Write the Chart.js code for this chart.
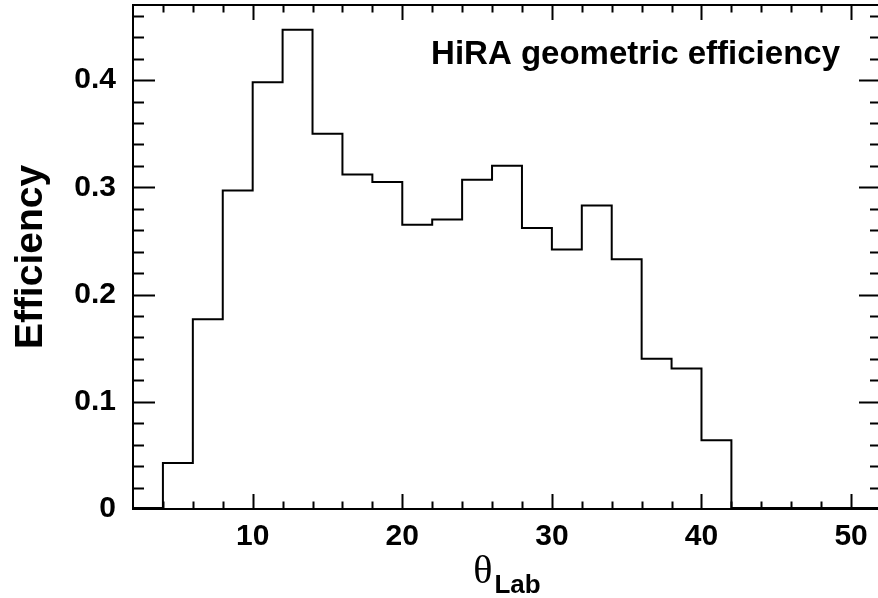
<!DOCTYPE html>
<html>
<head>
<meta charset="utf-8">
<script src="https://cdn.jsdelivr.net/npm/chart.js@4.4.1/dist/chart.umd.min.js"></script>
<style>
  html, body { margin: 0; padding: 0; background: #fff; overflow: hidden; width: 878px; height: 598px; }
  #wrap { width: 878px; height: 598px; overflow: hidden; position: relative; }
  #eff { position: absolute; left: 0; top: 0; }
</style>
</head>
<body>
<div id="wrap"><canvas id="eff" width="884" height="598"></canvas></div>
<script>
// histogram bins (lower edge, width 2 deg) and efficiency per bin
const binLow = [2, 4, 6, 8, 10, 12, 14, 16, 18, 20, 22, 24, 26, 28, 30, 32, 34, 36, 38, 40, 42, 44, 46, 48, 50];
const binWidth = 2;
const efficiency = [0.001, 0.043, 0.177, 0.297, 0.398, 0.447, 0.350, 0.312, 0.305, 0.265,
                    0.270, 0.307, 0.320, 0.262, 0.242, 0.283, 0.233, 0.140, 0.131, 0.064,
                    0.001, 0.001, 0.001, 0.001, 0.001];

// axis ticks
const xTicks = [10, 20, 30, 40, 50];
const yTicks = [0, 0.1, 0.2, 0.3, 0.4];
const xMinorStep = 2;
const yMinorStep = 0.02;

const labelFont = '"Liberation Sans", Arial, Helvetica, sans-serif';

// step outline: each bin starts at its lower edge, last one closed at upper edge
const points = binLow.map((x, i) => ({ x: x, y: efficiency[i] }));
points.push({ x: binLow[binLow.length - 1] + binWidth, y: efficiency[efficiency.length - 1] });

// ROOT-like frame with inward ticks on all four sides, plus titles
const frameTicks = {
    id: 'frameTicks',
    afterDraw(chart) {
        const ctx = chart.ctx;
        const a = chart.chartArea;
        const xs = chart.scales.x;
        const ys = chart.scales.y;
        ctx.save();
        ctx.strokeStyle = '#000';
        ctx.lineWidth = 2;
        ctx.strokeRect(a.left, a.top, a.right - a.left, a.bottom - a.top);

        ctx.beginPath();
        for (let v = xs.min + xMinorStep; v < xs.max - 1e-9; v += xMinorStep) {
            const px = Math.round(xs.getPixelForValue(v)) + 0.5;
            const major = xTicks.some(t => Math.abs(t - v) < 1e-6);
            const len = major ? 15 : 7.5;
            ctx.moveTo(px, a.bottom); ctx.lineTo(px, a.bottom - len);
            ctx.moveTo(px, a.top); ctx.lineTo(px, a.top + len);
        }
        for (let v = ys.min + yMinorStep; v < ys.max - 1e-9; v += yMinorStep) {
            const py = Math.round(ys.getPixelForValue(v)) + 0.5;
            const major = yTicks.some(t => Math.abs(t - v) < 1e-6);
            const len = major ? 22 : 11;
            ctx.moveTo(a.left, py); ctx.lineTo(a.left + len, py);
            ctx.moveTo(a.right, py); ctx.lineTo(a.right - len, py);
        }
        ctx.lineWidth = 2;
        ctx.stroke();

        // legend-like label
        ctx.fillStyle = '#000';
        ctx.font = 'bold 33px ' + labelFont;
        ctx.textAlign = 'right';
        ctx.textBaseline = 'alphabetic';
        ctx.fillText('HiRA geometric efficiency', 840, 64);

        // y title
        ctx.save();
        ctx.translate(42, (a.top + a.bottom) / 2);
        ctx.rotate(-Math.PI / 2);
        ctx.textAlign = 'center';
        ctx.font = 'bold 39px ' + labelFont;
        ctx.fillText('Efficiency', 0, 0);
        ctx.restore();

        // x title: theta with subscript Lab
        ctx.textAlign = 'left';
        ctx.font = '40px "Liberation Serif", "DejaVu Serif", serif';
        const th = '\u03B8';
        const thW = ctx.measureText(th).width;
        ctx.font = 'bold 26px ' + labelFont;
        const subW = ctx.measureText('Lab').width;
        const cx = (a.left + a.right) / 2;
        const x0 = cx - (thW + 2 + subW) / 2;
        ctx.font = '40px "Liberation Serif", "DejaVu Serif", serif';
        ctx.fillText(th, x0, 583);
        ctx.font = 'bold 26px ' + labelFont;
        ctx.fillText('Lab', x0 + thW + 2, 593);
        ctx.restore();
    }
};

new Chart(document.getElementById('eff'), {
    type: 'line',
    data: {
        datasets: [{
            data: points,
            stepped: 'before',
            borderColor: '#000',
            borderWidth: 2,
            pointRadius: 0,
            fill: false,
            tension: 0
        }]
    },
    options: {
        responsive: false,
        animation: false,
        devicePixelRatio: 1,
        layout: { padding: { top: 5, right: 3, left: 0, bottom: 0 } },
        plugins: {
            legend: { display: false },
            tooltip: { enabled: false }
        },
        scales: {
            x: {
                type: 'linear',
                min: 2,
                max: 52,
                grid: { display: false, drawTicks: false },
                border: { display: false },
                afterBuildTicks: s => { s.ticks = xTicks.map(v => ({ value: v })); },
                afterFit: s => { s.height = 89; s.paddingLeft = 0; s.paddingRight = 0; },
                ticks: {
                    color: '#000',
                    padding: 10,
                    maxRotation: 0,
                    font: { family: labelFont, size: 30, weight: 'bold' },
                    callback: v => String(v)
                }
            },
            y: {
                min: 0,
                max: 0.47,
                grid: { display: false, drawTicks: false },
                border: { display: false },
                afterBuildTicks: s => { s.ticks = yTicks.map(v => ({ value: v })); },
                afterFit: s => { s.width = 133; s.paddingTop = 0; s.paddingBottom = 0; },
                ticks: {
                    color: '#000',
                    padding: 17,
                    font: { family: labelFont, size: 30, weight: 'bold' },
                    callback: v => (v === 0 ? '0' : v.toFixed(1))
                }
            }
        }
    },
    plugins: [frameTicks]
});
</script>
</body>
</html>
